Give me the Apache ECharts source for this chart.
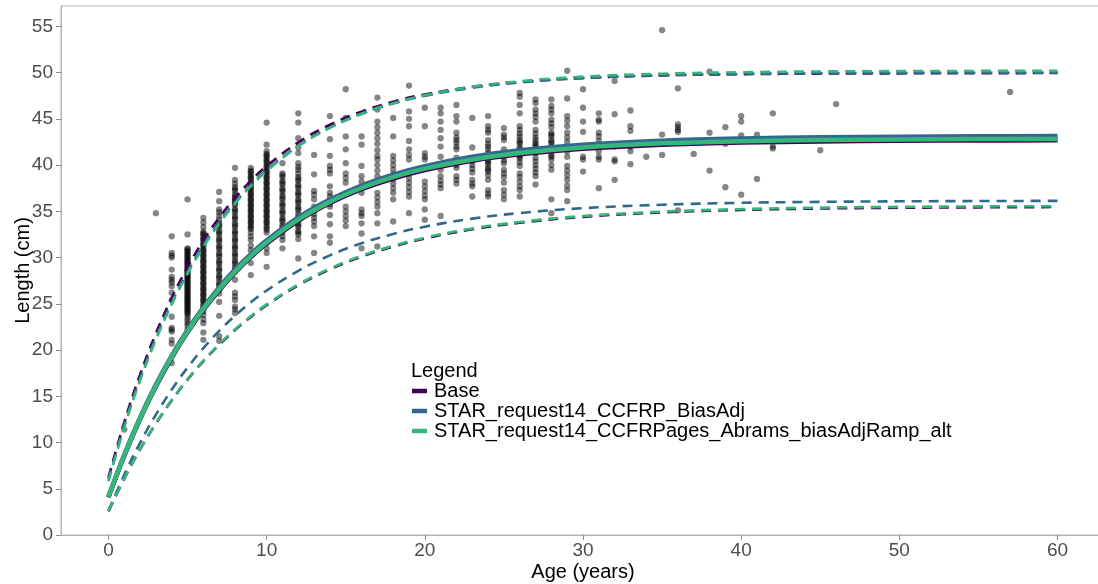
<!DOCTYPE html>
<html>
<head>
<meta charset="utf-8">
<script src="https://cdn.jsdelivr.net/npm/echarts@6/dist/echarts.min.js"></script>
<style>
html,body{margin:0;padding:0;background:#fff;}
#chart{width:1098px;height:584px;}
</style>
</head>
<body>
<div id="chart"></div>
<script>
// ---- Data ----
const xTicks = [0, 10, 20, 30, 40, 50, 60];
const yTicks = [0, 5, 10, 15, 20, 25, 30, 35, 40, 45, 50, 55];
const modelNames = ['Base', 'STAR_request14_CCFRP_BiasAdj', 'STAR_request14_CCFRPages_Abrams_biasAdjRamp_alt'];
const modelColors = ['#440154', '#31688E', '#35B779'];

const curveAges = [0, 1, 2, 3, 4, 5, 6, 7, 8, 9, 10, 12, 14, 16, 18, 20, 23, 26, 30, 35, 40, 45, 50, 55, 60];

const baseMean  = [4.05, 8.56, 12.54, 16.05, 19.16, 21.91, 24.33, 26.47, 28.37, 30.04, 31.51, 33.97, 35.89, 37.39, 38.55, 39.46, 40.47, 41.16, 41.76, 42.20, 42.43, 42.55, 42.62, 42.66, 42.68];
const baseUpper = [6.2, 12.18, 17.34, 21.80, 25.65, 28.97, 31.84, 34.31, 36.45, 38.30, 39.89, 42.45, 44.36, 45.78, 46.85, 47.64, 48.46, 48.99, 49.42, 49.70, 49.83, 49.89, 49.92, 49.94, 49.95];
const baseLower = [2.55, 6.10, 9.25, 12.05, 14.55, 16.80, 18.80, 20.57, 22.16, 23.58, 24.85, 27.00, 28.72, 30.10, 31.19, 32.06, 33.06, 33.76, 34.40, 34.88, 35.15, 35.30, 35.38, 35.43, 35.46];

const biasMean  = [4.15, 8.70, 12.71, 16.26, 19.40, 22.17, 24.62, 26.78, 28.69, 30.37, 31.86, 34.34, 36.27, 37.79, 38.97, 39.89, 40.90, 41.60, 42.21, 42.64, 42.88, 43.00, 43.07, 43.11, 43.13];
const biasUpper = [6.0, 11.86, 16.94, 21.35, 25.16, 28.47, 31.34, 33.83, 35.98, 37.85, 39.47, 42.09, 44.06, 45.53, 46.65, 47.48, 48.36, 48.93, 49.40, 49.71, 49.85, 49.93, 49.96, 49.98, 49.99];
const biasLower = [2.6, 6.51, 9.97, 13.02, 15.72, 18.10, 20.21, 22.07, 23.71, 25.16, 26.44, 28.57, 30.24, 31.54, 32.55, 33.34, 34.21, 34.81, 35.34, 35.71, 35.92, 36.02, 36.08, 36.11, 36.13];

const rampMean  = [4.10, 8.62, 12.61, 16.14, 19.25, 22.01, 24.44, 26.58, 28.48, 30.16, 31.64, 34.10, 36.02, 37.52, 38.69, 39.61, 40.61, 41.31, 41.91, 42.35, 42.58, 42.70, 42.77, 42.81, 42.83];
const rampUpper = [5.8, 11.64, 16.71, 21.11, 24.94, 28.26, 31.14, 33.65, 35.83, 37.72, 39.36, 42.03, 44.03, 45.55, 46.69, 47.55, 48.46, 49.06, 49.56, 49.88, 50.04, 50.12, 50.16, 50.18, 50.19];
const rampLower = [2.6, 6.12, 9.28, 12.09, 14.60, 16.84, 18.85, 20.63, 22.23, 23.66, 24.93, 27.09, 28.81, 30.19, 31.28, 32.15, 33.15, 33.85, 34.49, 34.97, 35.24, 35.40, 35.48, 35.53, 35.56];

const obsAges = [1, 3, 4, 5, 6, 7, 8, 9, 10, 11, 12, 13, 14, 15, 16, 17, 18, 19, 20, 21, 22, 23, 24, 25, 26, 27, 28, 29, 30, 31, 32, 33, 34, 35, 36, 37, 38, 39, 40, 41, 42, 45, 46, 57];
const obsLengths = [
  [11.4],
  [34.8],
  [32.3, 30.5, 30.2, 30.0, 28.7, 27.9, 27.6, 27.3, 26.9, 26.2, 25.4, 23.6, 22.4, 22.2, 22.0, 21.1, 20.7, 18.6],
  [36.3, 32.5, 31.0, 30.7, 30.4, 30.1, 29.8, 29.5, 29.2, 28.9, 28.6, 28.3, 28.0, 27.7, 27.4, 27.1, 26.8, 26.5, 26.2, 25.9, 25.6, 25.3, 25.0, 24.7, 24.4, 24.1, 23.8, 23.5, 23.2, 22.9, 22.6, 22.2,
   30.9, 30.6, 30.3, 30.0, 29.7, 29.4, 29.1, 28.8, 28.5, 28.2, 27.9, 27.6, 27.3, 27.0, 26.7, 26.4, 26.1, 25.8, 25.5, 25.2, 24.9, 24.6, 24.3, 24.0],
  [34.3, 33.8, 33.3, 32.8, 32.5, 32.2, 31.9, 31.6, 31.3, 31.0, 30.7, 30.4, 30.1, 29.8, 29.5, 29.2, 28.9, 28.6, 28.3, 28.0, 27.7, 27.4, 27.1, 26.8, 26.5, 26.2, 25.9, 25.6, 25.3, 25.0, 24.6, 24.2, 23.8, 23.3, 22.9, 21.9, 21.1,
   32.6, 32.0, 31.4, 30.8, 30.2, 29.6, 29.0, 28.4, 27.8, 27.2, 26.6, 26.0, 25.4, 24.8],
  [37.1, 36.1, 35.2, 34.9, 34.5, 34.1, 33.7, 33.3, 32.9, 32.5, 32.1, 31.7, 31.3, 30.9, 30.5, 30.1, 29.7, 29.3, 28.9, 28.5, 28.1, 27.7, 27.3, 26.9, 26.5, 26.1, 25.2, 23.7, 21.5, 21.0,
   33.5, 32.7, 31.9, 31.1, 30.3, 29.5, 28.7, 27.9, 27.1],
  [39.7, 38.4, 38.0, 37.6, 37.2, 36.8, 36.4, 36.1, 35.7, 35.3, 34.9, 34.5, 34.1, 33.7, 33.3, 32.9, 32.5, 32.1, 31.7, 31.3, 30.9, 30.5, 30.1, 29.7, 29.3, 28.9, 28.5, 27.6, 26.2, 25.8, 25.4, 24.7, 24.4, 24.0,
   37.4, 36.6, 35.9, 35.1, 34.3, 33.5, 32.7, 31.9, 31.1, 30.3, 29.5, 28.7],
  [39.7, 39.4, 39.1, 38.8, 38.5, 38.2, 37.9, 37.6, 37.3, 37.0, 36.7, 36.4, 36.1, 35.8, 35.5, 35.2, 34.9, 34.6, 34.3, 34.0, 33.7, 33.4, 33.1, 32.7, 32.3, 31.9, 31.3, 30.8, 29.4, 28.1,
   39.25, 38.65, 38.05, 37.45, 36.85, 36.25, 35.65, 35.05, 34.45, 33.85, 33.25],
  [44.6, 42.2, 41.5, 41.2, 40.9, 40.6, 40.3, 40.0, 39.7, 39.4, 39.1, 38.8, 38.5, 38.2, 37.9, 37.6, 37.3, 37.0, 36.7, 36.4, 36.1, 35.8, 35.5, 35.2, 34.9, 34.6, 34.3, 34.0, 33.7, 33.4, 33.0, 32.7, 31.6, 31.0, 30.5, 29.0,
   41.05, 40.45, 39.85, 39.25, 38.65, 38.05, 37.45, 36.85, 36.25, 35.65, 35.05, 34.45, 33.85, 33.2],
  [40.2, 39.1, 38.7, 38.3, 37.9, 37.5, 37.1, 36.7, 36.3, 35.9, 35.5, 35.1, 34.7, 34.3, 33.9, 33.5, 33.1, 32.7, 32.3, 31.9, 31.0,
   38.9, 38.1, 37.3, 36.5, 35.7, 34.9, 34.1, 33.3],
  [45.6, 44.6, 42.9, 41.9, 41.3, 40.2, 39.8, 39.5, 39.1, 38.7, 38.3, 37.9, 37.5, 37.1, 36.7, 36.3, 35.9, 35.5, 35.1, 34.7, 34.1, 33.7, 33.3, 32.9, 32.5, 32.0, 29.9,
   38.5, 37.7, 36.9, 36.1, 35.3, 34.4, 33.5, 32.7],
  [41.1, 39.0, 37.2, 36.8, 36.3, 35.5, 35.1, 34.7, 34.3, 33.9, 33.4, 32.3, 30.5],
  [45.3, 42.8, 41.0, 39.9, 39.5, 39.1, 37.7, 37.0, 36.6, 36.2, 35.8, 35.5, 34.6, 33.6, 32.3, 31.6],
  [48.2, 45.1, 43.1, 41.7, 40.2, 39.1, 38.6, 38.1, 35.5, 35.0, 34.5, 34.0, 33.4],
  [43.1, 42.2, 39.9, 38.8, 38.2, 37.6, 37.0, 35.2, 34.8, 34.5, 33.7, 32.6, 31.0],
  [47.3, 46.0, 44.7, 44.1, 43.5, 42.9, 42.3, 41.6, 41.0, 40.6, 40.0, 39.4, 38.8, 38.1, 37.0, 36.5, 36.0, 35.5, 34.8, 33.7, 31.2],
  [45.1, 43.1, 41.0, 40.5, 40.0, 39.5, 39.0, 38.5, 38.0, 37.5, 37.0, 36.3, 33.9],
  [48.6, 45.8, 45.0, 44.2, 42.6, 41.7, 41.1, 40.6, 39.1, 38.6, 38.1, 37.6, 37.1, 36.6, 34.8],
  [46.2, 44.2, 41.3, 40.9, 40.6, 38.2, 37.7, 37.2, 36.7, 36.3, 35.2, 34.1],
  [46.2, 45.6, 44.7, 43.8, 42.9, 42.0, 40.9, 40.0, 39.5, 38.8, 38.3, 37.9, 37.5, 34.5],
  [46.5, 45.3, 44.7, 43.5, 43.0, 42.7, 42.4, 42.0, 41.7, 40.8, 40.4, 40.0, 39.7, 38.8, 38.4, 38.0],
  [45.1, 41.9, 40.4, 40.0, 39.6, 39.2, 38.4, 38.0, 37.7, 36.6],
  [45.3, 44.2, 43.8, 43.5, 42.7, 42.3, 42.0, 41.7, 41.3, 40.9, 40.5, 40.1, 39.7, 39.3, 38.9, 38.4, 37.3, 36.9, 36.6, 40.3, 39.5],
  [44.0, 43.3, 43.0, 42.7, 41.7, 41.3, 40.9, 40.5, 40.2, 39.5, 39.1, 38.7, 38.1, 37.3, 36.8, 36.3],
  [47.8, 47.4, 46.5, 45.6, 44.2, 43.8, 43.4, 43.1, 42.7, 42.3, 41.9, 41.5, 41.1, 40.7, 40.3, 39.9, 39.1, 38.7, 38.2, 37.7, 37.3, 36.6, 42.5, 41.7, 40.9],
  [47.1, 46.7, 46.0, 45.6, 45.2, 44.7, 43.8, 43.4, 43.0, 42.7, 42.4, 42.0, 41.7, 41.3, 40.8, 40.4, 40.0, 39.6, 39.2, 38.8, 37.9, 42.2, 41.5],
  [47.1, 46.4, 46.0, 45.6, 44.9, 44.5, 44.1, 43.5, 43.1, 42.7, 42.3, 41.9, 41.5, 41.1, 40.9, 40.6, 40.0, 39.5, 36.3, 34.8, 42.5, 41.7, 43.3],
  [50.2, 47.2, 45.3, 44.8, 44.2, 43.5, 43.0, 42.5, 42.0, 41.5, 40.9, 39.9, 39.4, 38.9, 38.4, 37.8, 37.3, 36.1],
  [48.2, 46.2, 44.7, 43.6, 40.9, 40.6, 39.3],
  [45.6, 44.9, 44.7, 43.5, 43.1, 42.6, 42.0, 41.5, 40.9, 40.6, 37.5],
  [49.1, 45.5, 42.0, 40.6, 40.4, 38.4],
  [45.9, 44.2, 43.7, 42.0, 41.5, 40.1],
  [40.9],
  [54.6, 43.3, 41.1],
  [48.3, 44.4, 44.1, 43.8, 43.6, 35.1],
  [41.2],
  [50.1, 43.5, 39.4],
  [44.1, 42.3, 37.6],
  [45.3, 44.7, 43.2, 36.8],
  [43.3, 38.5],
  [45.6, 42.0, 41.8],
  [41.6],
  [46.6],
  [47.9]
];

// ---- Build ----
const points = [];
obsAges.forEach((a, i) => obsLengths[i].forEach(l => points.push([a, l])));
const pair = arr => curveAges.map((a, i) => [a, arr[i]]);

const FONT = 'Liberation Sans, Arial, Helvetica, sans-serif';
const curves = [
  [baseMean, baseUpper, baseLower],
  [biasMean, biasUpper, biasLower],
  [rampMean, rampUpper, rampLower]
];

const series = [{
  type: 'scatter',
  name: 'obs',
  data: points,
  symbolSize: 6.3,
  itemStyle: { color: 'rgba(0,0,0,0.6)' },
  z: 1,
  silent: true
}];
curves.forEach((set, m) => {
  set.forEach((arr, k) => {
    series.push({
      type: 'line',
      name: modelNames[m],
      data: pair(arr),
      showSymbol: false,
      symbol: 'none',
      smooth: 0.4,
      itemStyle: { color: modelColors[m] },
      lineStyle: k === 0
        ? { color: modelColors[m], width: 4.5, type: 'solid', cap: 'butt' }
        : { color: modelColors[m], width: 2.6, type: [10, 7], cap: 'butt' },
      z: 2 + m,
      silent: true
    });
  });
});

const chart = echarts.init(document.getElementById('chart'), null, { renderer: 'canvas' });
chart.setOption({
  animation: false,
  backgroundColor: '#ffffff',
  title: {
    text: 'Legend',
    left: 411,
    top: 361,
    padding: 0,
    textStyle: { fontFamily: FONT, fontSize: 20, fontWeight: 'normal', color: '#000' }
  },
  legend: {
    data: modelNames,
    orient: 'vertical',
    left: 412,
    top: 381,
    padding: 0,
    itemGap: 0,
    itemWidth: 15,
    itemHeight: 4.5,
    icon: 'rect',
    selectedMode: false,
    textStyle: { fontFamily: FONT, fontSize: 20, color: '#000', lineHeight: 18.5, padding: [0, 0, 0, 2] }
  },
  grid: {
    left: 61, right: -7, top: 6, bottom: 49,
    show: true, borderColor: '#b3b3b3', borderWidth: 1, backgroundColor: 'transparent',
    containLabel: false,
    outerBoundsMode: 'none'
  },
  xAxis: {
    type: 'value', min: -3, max: 63,
    name: 'Age (years)', nameLocation: 'middle', nameGap: 27, nameMoveOverlap: false,
    nameTextStyle: { fontFamily: FONT, fontSize: 20, color: '#000' },
    axisLine: { show: true, onZero: false, lineStyle: { color: '#b3b3b3', width: 1 } },
    axisTick: { show: true, length: 5, customValues: xTicks, lineStyle: { color: '#8c8c8c' } },
    axisLabel: { customValues: xTicks, margin: 6, fontFamily: FONT, fontSize: 19, color: '#4d4d4d' },
    splitLine: { show: false }
  },
  yAxis: {
    type: 'value', min: 0, max: 57.2,
    name: 'Length (cm)', nameLocation: 'middle', nameGap: 28, nameRotate: 90, nameMoveOverlap: false,
    nameTextStyle: { fontFamily: FONT, fontSize: 20, color: '#000' },
    axisLine: { show: true, onZero: false, lineStyle: { color: '#b3b3b3', width: 1 } },
    axisTick: { show: true, length: 5, customValues: yTicks, lineStyle: { color: '#8c8c8c' } },
    axisLabel: { customValues: yTicks, margin: 8, fontFamily: FONT, fontSize: 19, color: '#4d4d4d' },
    splitLine: { show: false }
  },
  series: series
});
</script>
</body>
</html>
